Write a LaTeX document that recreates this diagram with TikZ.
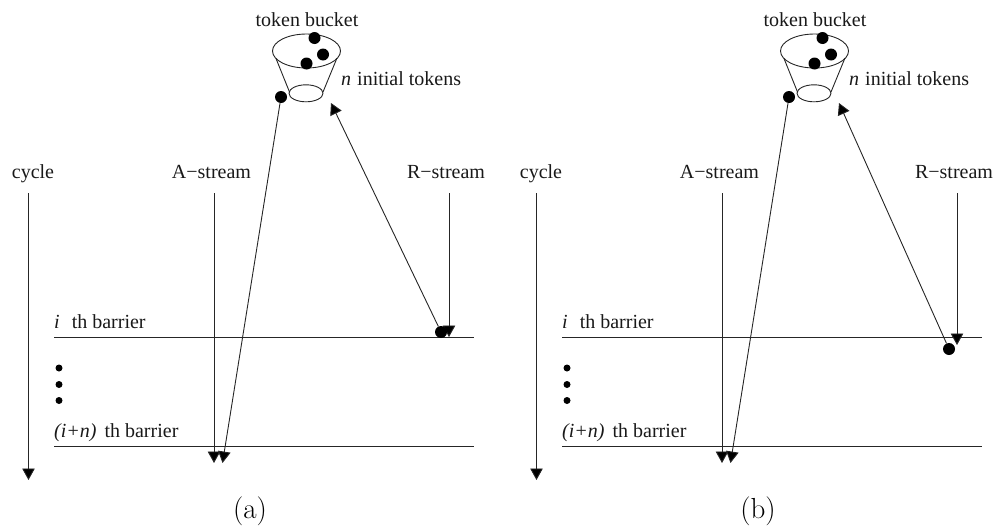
\documentclass[tikz,border=0pt]{standalone}
\usepackage{fontspec}
\setmainfont{Latin Modern Roman}
\newfontfamily\timesf{Liberation Serif}
\usetikzlibrary{arrows.meta}
\tikzset{
  x=1pt,y=-1pt,
  lbl/.style={inner sep=0pt,font=\timesf\fontsize{20}{22}\selectfont,text=black!90},
  captext/.style={inner sep=0pt,font=\fontsize{29}{32}\selectfont},
  tok/.style={circle,fill=black,inner sep=0pt,minimum size=12pt},
  smalldot/.style={circle,fill=black,inner sep=0pt,minimum size=7pt},
  ln/.style={line width=0.9pt,draw=black!85},
  arr/.style={ln,-{Triangle[width=12.5pt,length=11.5pt,fill=black]}},
}
\newcommand{\commonpanel}{%
  \node[lbl,anchor=base] (toplabel) at (307,26) {token bucket};
  \draw[ln] (306.5,51) ellipse [x radius=34,y radius=17];
  \draw[ln] (306,93.3) ellipse [x radius=17,y radius=8.5];
  \coordinate (bl1) at (276,58.5); \coordinate (bl2) at (289.5,92);
  \coordinate (br1) at (337,58); \coordinate (br2) at (323,92);
  \draw[ln] (bl1) -- (bl2);
  \draw[ln] (br1) -- (br2);
  \node[tok] (t1) at (314.5,38) {};
  \node[tok] (t2) at (323,54.5) {};
  \node[tok] (t3) at (306.5,63.5) {};
  \node[lbl,anchor=base west] (init) at (341,85) {\textit{n}\hspace{0.3em}initial tokens};
  \node[lbl,anchor=base] (cyc) at (33,178) {cycle};
  \node[lbl,anchor=base] (as) at (211.5,178) {A−stream};
  \node[lbl,anchor=base] (rs) at (446,178) {R−stream};
  \coordinate (cs) at (28.5,193); \coordinate (ce) at (28.5,480);
  \draw[arr] (cs) -- (ce);
  \coordinate (b1s) at (54,337); \coordinate (b1e) at (474,337);
  \coordinate (b2s) at (54,446); \coordinate (b2e) at (474,446);
  \draw[ln] (b1s) -- (b1e);
  \draw[ln] (b2s) -- (b2e);
  \node[lbl,anchor=base west] (bi) at (54,328) {\textit{i}\hspace{0.6em}th barrier};
  \node[lbl,anchor=base west] (bin) at (54,437) {\textit{(i+n)}\hspace{0.4em}th barrier};
  \node[smalldot] (d1) at (59,368) {};
  \node[smalldot] (d2) at (59,384.5) {};
  \node[smalldot] (d3) at (59,400.5) {};
  \coordinate (as0) at (214,193); \coordinate (as1) at (214,463);
  \draw[arr] (as0) -- (as1);
  \node[tok] (out) at (281,97) {};
  \coordinate (oe) at (222.5,463);
  \draw[arr] (out) -- (oe);
  \coordinate (rs0) at (449,193);
}
\begin{document}
\begin{tikzpicture}
\useasboundingbox (0,0) rectangle (998,525);
\begin{scope}[name prefix=a-]
  \commonpanel
  \coordinate (rs1) at (449,337);
  \draw[arr] (rs0) -- (rs1);
  \node[tok] (rd) at (441,332) {};
  \coordinate (re) at (331,103);
  \draw[arr] (rd) -- (re);
  \node[captext,anchor=base] (capa) at (250,518) {(a)};
\end{scope}
\begin{scope}[shift={(508,0)},name prefix=b-]
  \commonpanel
  \coordinate (rs1) at (449,345);
  \draw[arr] (rs0) -- (rs1);
  \node[tok] (rd) at (441,349) {};
  \coordinate (re) at (331,103);
  \draw[arr] (rd) -- (re);
  \node[captext,anchor=base] (capb) at (250,518) {(b)};
\end{scope}
\end{tikzpicture}
\end{document}
